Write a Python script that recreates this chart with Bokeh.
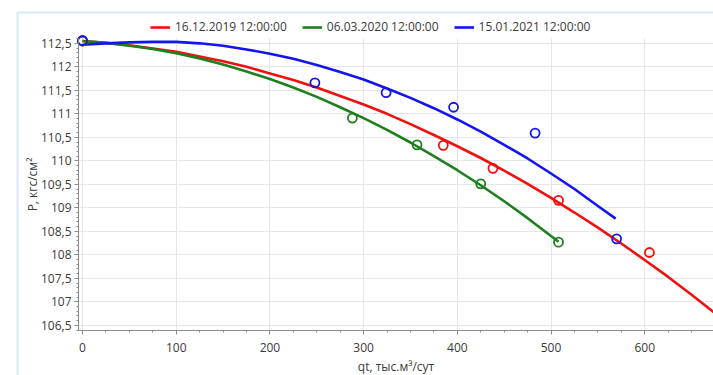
from bokeh.plotting import figure
from bokeh.models import (Legend, LegendItem, SingleIntervalTicker, CustomJSTickFormatter, Range1d,
                          BoxAnnotation, LinearAxis, Grid)
from bokeh.embed import file_html
from bokeh.resources import INLINE

# ---- data ----
series_names = ["16.12.2019 12:00:00", "06.03.2020 12:00:00", "15.01.2021 12:00:00"]

red_pts_q = [0, 385, 438, 508, 605]
red_pts_p = [112.55, 110.33, 109.84, 109.16, 108.05]
green_pts_q = [0, 288, 357, 425, 508]
green_pts_p = [112.55, 110.91, 110.34, 109.51, 108.27]
blue_pts_q = [0, 248, 324, 396, 483, 570]
blue_pts_p = [112.56, 111.66, 111.45, 111.14, 110.59, 108.34]

red_fit_q = [0, 25, 50, 75, 100, 125, 150, 175, 200, 225, 250, 275, 300, 325, 350, 375,
             400, 425, 450, 475, 500, 525, 550, 575, 600, 625, 650, 675, 700]
red_fit_p = [112.55, 112.51, 112.46, 112.39, 112.32, 112.22, 112.12, 112.00, 111.86, 111.72,
             111.56, 111.38, 111.20, 111.00, 110.78, 110.55, 110.31, 110.06, 109.79, 109.51,
             109.21, 108.90, 108.58, 108.24, 107.89, 107.53, 107.15, 106.76, 106.36]
green_fit_q = [0, 25, 50, 75, 100, 125, 150, 175, 200, 225, 250, 275, 300, 325, 350, 375,
               400, 425, 450, 475, 500, 508]
green_fit_p = [112.55, 112.51, 112.45, 112.38, 112.29, 112.18, 112.05, 111.90, 111.74, 111.56,
               111.36, 111.14, 110.91, 110.66, 110.39, 110.10, 109.80, 109.48, 109.14, 108.78,
               108.40, 108.28]
blue_fit_q = [0, 25, 50, 75, 100, 125, 150, 175, 200, 225, 250, 275, 300, 325, 350, 375,
              400, 425, 450, 475, 500, 525, 550, 569]
blue_fit_p = [112.47, 112.50, 112.52, 112.53, 112.53, 112.50, 112.45, 112.37, 112.28, 112.17,
              112.04, 111.89, 111.73, 111.54, 111.34, 111.12, 110.88, 110.62, 110.34, 110.05,
              109.73, 109.40, 109.04, 108.77]

x_label = "qt, тыс.м³/сут"
y_label = "P, кгс/см²"

# ---- layout / style ----
FONT = "Open Sans"
RED, GREEN, BLUE = "#f01010", "#1f7f1f", "#1414f0"
X_MIN, X_MAX = -4.3, 673.4        # visible plot-area extent (axis bounds)
Y_MIN, Y_MAX = 106.39, 112.61
KX, KY = 0.937, 47.0              # pixels per unit
AX_PX, AY_PX = 78, 330            # pixel position of the axes on the canvas
W, H = 713, 375

x0 = X_MIN - AX_PX / KX
x1 = X_MIN + (W - AX_PX) / KX
y1 = Y_MIN + AY_PX / KY
y0 = Y_MIN - (H - AY_PX) / KY

p = figure(width=W, height=H, output_backend="svg", toolbar_location=None,
           x_range=Range1d(x0, x1), y_range=Range1d(y0, y1),
           min_border_left=0, min_border_right=0, min_border_top=0, min_border_bottom=0,
           x_axis_location=None, y_axis_location=None)
p.outline_line_color = None
p.background_fill_color = "white"
p.border_fill_color = "white"

xaxis = LinearAxis(fixed_location=Y_MIN, bounds=(X_MIN, X_MAX),
                   ticker=SingleIntervalTicker(interval=100, num_minor_ticks=4))
yaxis = LinearAxis(fixed_location=X_MIN, bounds=(Y_MIN, Y_MAX),
                   ticker=SingleIntervalTicker(interval=0.5, num_minor_ticks=5))
yaxis.formatter = CustomJSTickFormatter(code="""
    const v = Math.round(tick * 10) / 10;
    return v.toString().replace('.', ',');
""")
xaxis.axis_label = x_label
yaxis.axis_label = y_label
for ax in (xaxis, yaxis):
    ax.axis_line_color = "#8a8a8a"
    ax.major_tick_line_color = "#8a8a8a"
    ax.minor_tick_line_color = "#8a8a8a"
    ax.major_tick_out = 4
    ax.major_tick_in = 0
    ax.minor_tick_out = 2
    ax.minor_tick_in = 0
    ax.major_label_text_font = FONT
    ax.major_label_text_font_size = "12px"
    ax.major_label_text_color = "#3a3a3a"
    ax.axis_label_text_font = FONT
    ax.axis_label_text_font_size = "12px"
    ax.axis_label_text_font_style = "normal"
    ax.axis_label_text_color = "#3a3a3a"
xaxis.major_label_standoff = 8
xaxis.axis_label_standoff = 3
yaxis.major_label_standoff = 3
yaxis.axis_label_standoff = -3
p.add_layout(xaxis, "below")
p.add_layout(yaxis, "left")

xgrid = Grid(dimension=0, ticker=xaxis.ticker, bounds=(X_MIN, X_MAX), grid_line_color="#e6e6e6")
ygrid = Grid(dimension=1, ticker=yaxis.ticker, bounds=(Y_MIN, Y_MAX), grid_line_color="#e6e6e6")
p.add_layout(xgrid)
p.add_layout(ygrid)

# white masks that keep the grid inside the plot area
for kw in (dict(left=x0 - 20, right=X_MIN, top=y1 + 1, bottom=y0 - 1),
           dict(left=x0 - 20, right=x1 + 50, top=y1 + 1, bottom=Y_MAX),
           dict(left=x0 - 20, right=x1 + 50, top=Y_MIN, bottom=y0 - 1)):
    p.add_layout(BoxAnnotation(fill_color="white", fill_alpha=1.0, line_color=None,
                               level="underlay", **kw))

# panel frame (light blue line at left and top)
p.add_layout(BoxAnnotation(left=x0 + 17 / KX, top=y1 - 12 / KY, right=x1 + 50, bottom=y0 - 5,
                           fill_color=None, line_color="#7fb0e6", line_width=2))

# curves
r_red = p.line(red_fit_q, red_fit_p, line_color=RED, line_width=2.6)
r_green = p.line(green_fit_q, green_fit_p, line_color=GREEN, line_width=2.6)
r_blue = p.line(blue_fit_q, blue_fit_p, line_color=BLUE, line_width=2.6)

# points
p.scatter(red_pts_q, red_pts_p, size=9, fill_color=None, line_color=RED, line_width=1.8)
p.scatter(green_pts_q, green_pts_p, size=9, fill_color=None, line_color=GREEN, line_width=1.8)
p.scatter(blue_pts_q, blue_pts_p, size=9, fill_color=None, line_color=BLUE, line_width=1.8)

legend = Legend(items=[LegendItem(label=series_names[0], renderers=[r_red]),
                       LegendItem(label=series_names[1], renderers=[r_green]),
                       LegendItem(label=series_names[2], renderers=[r_blue])],
                orientation="horizontal", location=(150, 340),
                padding=2, margin=0, spacing=15, glyph_width=20, glyph_height=16,
                label_height=16, label_standoff=5,
                label_text_font=FONT, label_text_font_size="12px", label_text_color="#3a3a3a",
                border_line_color=None, background_fill_alpha=0)
p.add_layout(legend)

open("out.html", "w").write(file_html(p, INLINE))
